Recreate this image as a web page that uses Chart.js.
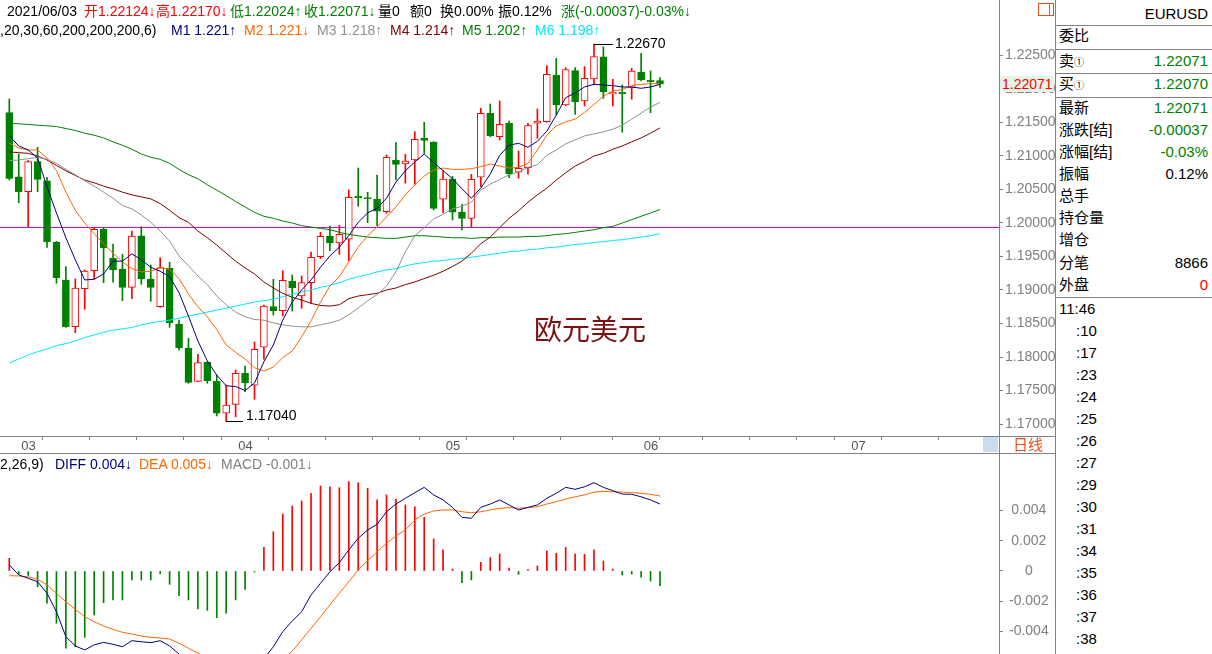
<!DOCTYPE html>
<html lang="zh-CN">
<head>
<meta charset="utf-8">
<title>EURUSD 日线</title>
<script src="https://cdn.jsdelivr.net/npm/chart.js@4.4.1/dist/chart.umd.min.js"></script>
<style>
    body { margin: 0; background: #fff; }
    #page { position: relative; width: 1212px; height: 654px; overflow: hidden; background: #fff;
            font-family: "Liberation Sans", Arial, "Noto Sans CJK SC", sans-serif; }
    canvas { position: absolute; left: 0; }
    .t { position: absolute; white-space: nowrap; font-size: 14px; line-height: 16px; }
    .p { position: absolute; white-space: nowrap; font-size: 15px; line-height: 18px; color: #000; }
    .v { right: 4px; text-align: right; }
    .ln { position: absolute; background: #808080; }
    .red { color: #ff0000; } .grn { color: #008000; } .blk { color: #000; }
</style>
</head>
<body>
<div id="page">
    <canvas id="priceChart" width="1055" height="454" style="top:0"></canvas>
    <canvas id="macdChart" width="1055" height="200" style="top:454px"></canvas>

    <!-- cadres -->
    <div class="ln" style="left:999px;top:0;width:1px;height:654px"></div>
    <div class="ln" style="left:1055px;top:0;width:1px;height:654px"></div>
    <div class="ln" style="left:0;top:436px;width:1055px;height:1px"></div>
    <div class="ln" style="left:0;top:453px;width:1055px;height:1px"></div>
    <div class="ln" style="left:1055px;top:25px;width:157px;height:1px"></div>
    <div class="ln" style="left:1055px;top:49px;width:157px;height:1px"></div>
    <div class="ln" style="left:1055px;top:73px;width:157px;height:1px"></div>
    <div class="ln" style="left:1055px;top:97px;width:157px;height:1px"></div>
    <div class="ln" style="left:1055px;top:297px;width:157px;height:1px"></div>
    <div style="position:absolute;left:1038px;top:3px;width:14px;height:11px;border:1px solid #e8501e"></div>
    <div style="position:absolute;left:1049px;top:3px;width:1px;height:13px;background:#e8501e"></div>
    <div style="position:absolute;left:983px;top:437px;width:15px;height:15px;background:#c8dcf2"></div>
    <div class="t" style="left:1013px;top:437px;color:#e8501e;font-size:15px">日线</div>

    <!-- en-tête -->
    <div class="t blk" style="left:7px;top:3px">2021/06/03</div>
    <div class="t red" style="left:84px;top:3px">开1.22124↓</div>
    <div class="t red" style="left:156px;top:3px">高1.22170↓</div>
    <div class="t grn" style="left:230px;top:3px">低1.22024↑</div>
    <div class="t grn" style="left:304px;top:3px">收1.22071↓</div>
    <div class="t blk" style="left:378px;top:3px">量0</div>
    <div class="t blk" style="left:410px;top:3px">额0</div>
    <div class="t blk" style="left:440px;top:3px">换0.00%</div>
    <div class="t blk" style="left:498px;top:3px">振0.12%</div>
    <div class="t grn" style="left:561px;top:3px">涨(-0.00037)-0.03%↓</div>

    <div class="t blk" style="left:0;top:22px">,20,30,60,200,200,200,6)</div>
    <div class="t" style="left:171px;top:22px;color:#000080">M1 1.221↑</div>
    <div class="t" style="left:244px;top:22px;color:#ff6600">M2 1.221↓</div>
    <div class="t" style="left:317px;top:22px;color:#909090">M3 1.218↑</div>
    <div class="t" style="left:390px;top:22px;color:#800000">M4 1.214↑</div>
    <div class="t" style="left:462px;top:22px;color:#008000">M5 1.202↑</div>
    <div class="t" style="left:535px;top:22px;color:#00e8ff">M6 1.198↑</div>

    <div class="t blk" style="left:0;top:456px">2,26,9)</div>
    <div class="t" style="left:55px;top:456px;color:#000080">DIFF 0.004↓</div>
    <div class="t" style="left:139px;top:456px;color:#ff6600">DEA 0.005↓</div>
    <div class="t" style="left:221px;top:456px;color:#808080">MACD -0.001↓</div>

    <div style="position:absolute;left:534px;top:311px;font-size:28px;line-height:34px;color:#7b1010;font-family:'Noto Sans CJK SC',sans-serif">欧元美元</div>

    <!-- étiquette du dernier prix -->
    <div class="t red" style="left:1000px;top:76px;width:54px;height:16px;background:#e6f4e6;padding-left:2px;box-sizing:border-box">1.22071</div>

    <!-- panneau de droite -->
    <div class="p v" style="top:5px">EURUSD</div>
    <div class="p" style="left:1059px;top:27px">委比</div>
    <div class="p" style="left:1059px;top:52px">卖<span style="font-size:10px">①</span></div>
    <div class="p v grn" style="top:52px">1.22071</div>
    <div class="p" style="left:1059px;top:75px">买<span style="font-size:10px">①</span></div>
    <div class="p v grn" style="top:75px">1.22070</div>
    <div class="p" style="left:1059px;top:99px">最新</div>
    <div class="p v grn" style="top:99px">1.22071</div>
    <div class="p" style="left:1059px;top:121px">涨跌[结]</div>
    <div class="p v grn" style="top:121px">-0.00037</div>
    <div class="p" style="left:1059px;top:143px">涨幅[结]</div>
    <div class="p v grn" style="top:143px">-0.03%</div>
    <div class="p" style="left:1059px;top:165px">振幅</div>
    <div class="p v" style="top:165px">0.12%</div>
    <div class="p" style="left:1059px;top:187px">总手</div>
    <div class="p" style="left:1059px;top:209px">持仓量</div>
    <div class="p" style="left:1059px;top:231px">增仓</div>
    <div class="p" style="left:1059px;top:254px">分笔</div>
    <div class="p v" style="top:254px">8866</div>
    <div class="p" style="left:1059px;top:276px">外盘</div>
    <div class="p v red" style="top:276px">0</div>
    <div id="timeList"></div>
</div>

<script>
// ------------------ DONNÉES (séance 0 = 26/02/2021) ------------------
const opens = [1.21646, 1.20690, 1.20467, 1.20915, 1.20631, 1.19716, 1.19149, 1.18452, 1.19019, 1.19290,
    1.19906, 1.19473, 1.19313, 1.19040, 1.19810, 1.19164, 1.18751, 1.19324, 1.18493, 1.18134,
    1.17637, 1.17925, 1.17637, 1.17160, 1.17294, 1.17757, 1.17578, 1.18145, 1.18751, 1.18691,
    1.19130, 1.18910, 1.19109, 1.19497, 1.19802, 1.19702, 1.19757, 1.20403, 1.20378, 1.20354,
    1.20169, 1.20940, 1.20881, 1.20940, 1.21269, 1.21209, 1.20354, 1.20657, 1.20164, 1.20070,
    1.20682, 1.21637, 1.21288, 1.21488, 1.20757, 1.20825, 1.21488, 1.21512, 1.22209, 1.21761,
    1.22273, 1.21821, 1.22149, 1.22478, 1.21925, 1.21951, 1.22025, 1.22249, 1.22130, 1.22124];
const highs = [1.21851, 1.21030, 1.20933, 1.21130, 1.20682, 1.19725, 1.19348, 1.19164, 1.19299, 1.19936,
    1.19936, 1.19687, 1.19533, 1.19881, 1.19945, 1.19373, 1.19482, 1.19413, 1.18552, 1.18279,
    1.18040, 1.17930, 1.17727, 1.17582, 1.17806, 1.17866, 1.18224, 1.18776, 1.19160, 1.19284,
    1.19224, 1.19209, 1.19567, 1.19861, 1.19955, 1.19966, 1.20493, 1.20821, 1.20458, 1.20716,
    1.21015, 1.21201, 1.21025, 1.21363, 1.21503, 1.21215, 1.20781, 1.20697, 1.20279, 1.20727,
    1.21712, 1.21776, 1.21821, 1.21522, 1.21075, 1.21488, 1.21701, 1.22348, 1.22458, 1.22318,
    1.22318, 1.22333, 1.22670, 1.22627, 1.22145, 1.22060, 1.22309, 1.22533, 1.22269, 1.22170];
const lows = [1.20642, 1.20303, 1.19945, 1.20467, 1.19637, 1.19100, 1.18440, 1.18363, 1.18712, 1.19160,
    1.19109, 1.19115, 1.18840, 1.18870, 1.19085, 1.18831, 1.18742, 1.18443, 1.18105, 1.17608,
    1.17630, 1.17608, 1.17120, 1.17040, 1.17109, 1.17482, 1.17369, 1.17966, 1.18627, 1.18612,
    1.18687, 1.18727, 1.18802, 1.19467, 1.19587, 1.19533, 1.19437, 1.20249, 1.20004, 1.19960,
    1.20145, 1.20642, 1.20593, 1.20578, 1.21040, 1.20194, 1.20154, 1.20045, 1.19896, 1.19936,
    1.20542, 1.21288, 1.21239, 1.20676, 1.20667, 1.20727, 1.21264, 1.21505, 1.21612, 1.21751,
    1.21622, 1.21746, 1.22060, 1.21861, 1.21746, 1.21354, 1.21846, 1.22119, 1.21646, 1.22024];
const closes = [1.20667, 1.20467, 1.20915, 1.20652, 1.19721, 1.19184, 1.18452, 1.19030, 1.19284, 1.19906,
    1.19627, 1.19299, 1.19040, 1.19806, 1.19169, 1.19040, 1.19333, 1.18512, 1.18139, 1.17622,
    1.17915, 1.17646, 1.17160, 1.17284, 1.17757, 1.17616, 1.18115, 1.18761, 1.18691, 1.19145,
    1.19034, 1.19109, 1.19488, 1.19802, 1.19702, 1.19831, 1.20384, 1.20373, 1.20363, 1.20175,
    1.20981, 1.20876, 1.20925, 1.21249, 1.21234, 1.20219, 1.20657, 1.20160, 1.20070, 1.20652,
    1.21637, 1.21303, 1.21473, 1.20731, 1.20816, 1.21452, 1.21522, 1.22219, 1.21761, 1.22288,
    1.21810, 1.22160, 1.22482, 1.21960, 1.21951, 1.21930, 1.22269, 1.22139, 1.22108, 1.22071];

// moyennes mobiles
const ma1 = [1.2130, 1.2115, 1.2109, 1.2097, 1.2054, 1.2015, 1.1978, 1.1945, 1.1915, 1.1916,
    1.1924, 1.1943, 1.1943, 1.1954, 1.1945, 1.1934, 1.1928, 1.1920, 1.1896, 1.1861,
    1.1824, 1.1794, 1.1773, 1.1757, 1.1756, 1.1750, 1.1761, 1.1793, 1.1818, 1.1855,
    1.1882, 1.1900, 1.1915, 1.1934, 1.1951, 1.1964, 1.1981, 1.2001, 1.2015, 1.2022,
    1.2037, 1.2061, 1.2078, 1.2091, 1.2103, 1.2090, 1.2078, 1.2066, 1.2051, 1.2037,
    1.2052, 1.2073, 1.2101, 1.2116, 1.2119, 1.2113, 1.2122, 1.2137, 1.2161, 1.2187,
    1.2194, 1.2203, 1.2207, 1.2206, 1.2205, 1.2203, 1.2203, 1.2201, 1.2203, 1.2207];
const ma2 = [1.2119, 1.2112, 1.2109, 1.2109, 1.2097, 1.2078, 1.2046, 1.2019, 1.2000, 1.1984,
    1.1969, 1.1955, 1.1942, 1.1932, 1.1927, 1.1928, 1.1933, 1.1931, 1.1917, 1.1894,
    1.1875, 1.1860, 1.1841, 1.1818, 1.1807, 1.1797, 1.1784, 1.1779, 1.1785, 1.1799,
    1.1809, 1.1830, 1.1854, 1.1882, 1.1906, 1.1920, 1.1942, 1.1964, 1.1981, 1.1994,
    1.2009, 1.2024, 1.2042, 1.2057, 1.2070, 1.2079, 1.2082, 1.2080, 1.2080, 1.2081,
    1.2084, 1.2088, 1.2085, 1.2082, 1.2083, 1.2089, 1.2109, 1.2131, 1.2145, 1.2151,
    1.2155, 1.2165, 1.2177, 1.2189, 1.2197, 1.2199, 1.2205, 1.2207, 1.2208, 1.2208];
const ma3 = [1.2093, 1.2094, 1.2096, 1.2098, 1.2095, 1.2089, 1.2080, 1.2072, 1.2063, 1.2055,
    1.2046, 1.2037, 1.2026, 1.2021, 1.2012, 1.2001, 1.1988, 1.1973, 1.1951, 1.1936,
    1.1921, 1.1908, 1.1891, 1.1878, 1.1867, 1.1860, 1.1856, 1.1855, 1.1851, 1.1848,
    1.1846, 1.1845, 1.1845, 1.1848, 1.1851, 1.1855, 1.1863, 1.1873, 1.1884, 1.1893,
    1.1906, 1.1927, 1.1957, 1.1981, 1.1993, 1.2006, 1.2013, 1.2021, 1.2025, 1.2031,
    1.2049, 1.2058, 1.2065, 1.2072, 1.2076, 1.2083, 1.2087, 1.2101, 1.2109, 1.2118,
    1.2124, 1.2130, 1.2133, 1.2136, 1.2140, 1.2146, 1.2155, 1.2164, 1.2173, 1.2180];
const ma4 = [1.2106, 1.2105, 1.2104, 1.2100, 1.2094, 1.2086, 1.2078, 1.2071, 1.2064, 1.2060,
    1.2055, 1.2051, 1.2046, 1.2042, 1.2039, 1.2036, 1.2029, 1.2019, 1.2008, 1.2001,
    1.1988, 1.1978, 1.1967, 1.1955, 1.1943, 1.1933, 1.1924, 1.1912, 1.1903, 1.1895,
    1.1889, 1.1885, 1.1880, 1.1877, 1.1876, 1.1878, 1.1887, 1.1891, 1.1893, 1.1895,
    1.1900, 1.1903, 1.1908, 1.1912, 1.1917, 1.1922, 1.1928, 1.1935, 1.1943, 1.1955,
    1.1969, 1.1979, 1.1993, 1.2007, 1.2018, 1.2031, 1.2042, 1.2052, 1.2064, 1.2075,
    1.2085, 1.2092, 1.2100, 1.2104, 1.2110, 1.2115, 1.2121, 1.2127, 1.2134, 1.2142];
const ma5 = [1.2149, 1.2148, 1.2147, 1.2146, 1.2145, 1.2144, 1.2141, 1.2138, 1.2134, 1.2131,
    1.2127, 1.2121, 1.2116, 1.2110, 1.2103, 1.2098, 1.2095, 1.2089, 1.2080, 1.2072,
    1.2066, 1.2057, 1.2049, 1.2041, 1.2032, 1.2024, 1.2016, 1.2010, 1.2007, 1.2003,
    1.2000, 1.1996, 1.1994, 1.1992, 1.1990, 1.1986, 1.1983, 1.1981, 1.1979, 1.1978,
    1.1977, 1.1977, 1.1979, 1.1981, 1.1981, 1.1980, 1.1979, 1.1978, 1.1978, 1.1977,
    1.1978, 1.1978, 1.1979, 1.1979, 1.1979, 1.1980, 1.1980, 1.1981, 1.1983, 1.1984,
    1.1986, 1.1988, 1.1990, 1.1993, 1.1995, 1.2000, 1.2005, 1.2010, 1.2015, 1.2020];
const ma6 = [1.1791, 1.1797, 1.1803, 1.1808, 1.1812, 1.1817, 1.1820, 1.1824, 1.1829, 1.1833,
    1.1837, 1.1840, 1.1842, 1.1844, 1.1848, 1.1851, 1.1853, 1.1855, 1.1858, 1.1861,
    1.1864, 1.1867, 1.1870, 1.1873, 1.1876, 1.1879, 1.1882, 1.1884, 1.1886, 1.1890,
    1.1894, 1.1897, 1.1900, 1.1904, 1.1907, 1.1911, 1.1916, 1.1920, 1.1923, 1.1927,
    1.1930, 1.1932, 1.1936, 1.1939, 1.1941, 1.1943, 1.1944, 1.1946, 1.1947, 1.1949,
    1.1951, 1.1953, 1.1955, 1.1957, 1.1958, 1.1960, 1.1961, 1.1963, 1.1964, 1.1966,
    1.1968, 1.1969, 1.1971, 1.1972, 1.1974, 1.1975, 1.1977, 1.1979, 1.1981, 1.1984];

// MACD (12,26,9)
const diffLine = [0.0004, -0.00026, -0.00048, -0.00071, -0.00147, -0.00269, -0.00434, -0.00495, -0.00521, -0.00488,
    -0.00471, -0.00484, -0.0050, -0.0046, -0.00467, -0.00473, -0.0046, -0.00495, -0.00548, -0.0061,
    -0.0066, -0.0071, -0.0076, -0.0079, -0.0077, -0.0074, -0.0068, -0.0058, -0.0050, -0.0040,
    -0.0033, -0.00269, -0.00158, -0.00081, -0.00005, 0.00055, 0.00139, 0.00216, 0.00271, 0.00308,
    0.00391, 0.00442, 0.0048, 0.00517, 0.00552, 0.00502, 0.00469, 0.0042, 0.00354, 0.00348,
    0.0042, 0.00442, 0.00469, 0.00436, 0.00403, 0.0042, 0.00436, 0.0048, 0.00513, 0.00552,
    0.00539, 0.00556, 0.00583, 0.00552, 0.0053, 0.00508, 0.00506, 0.0049, 0.00469, 0.00442];
const deaLine = [-0.00031, -0.00033, -0.00038, -0.00055, -0.00092, -0.00147, -0.00203, -0.00253, -0.00302, -0.00335,
    -0.00363, -0.00385, -0.00405, -0.00416, -0.00429, -0.00438, -0.00442, -0.00449, -0.00477, -0.0051,
    -0.00543, -0.0058, -0.0062, -0.0065, -0.0067, -0.0068, -0.0068, -0.0066, -0.0063, -0.0058,
    -0.0053, -0.00455, -0.00378, -0.00302, -0.00224, -0.00147, -0.00071, 0.00007, 0.00068, 0.00127,
    0.00183, 0.00231, 0.00271, 0.00337, 0.00376, 0.00396, 0.00403, 0.00403, 0.00391, 0.00385,
    0.00391, 0.00403, 0.00414, 0.00418, 0.00414, 0.00418, 0.00424, 0.00442, 0.00457, 0.00475,
    0.0049, 0.00502, 0.00521, 0.00526, 0.00523, 0.00521, 0.00517, 0.00513, 0.00506, 0.00495];
const macdBars = [0.00084, -0.0002, -0.0003, -0.00104, -0.00213, -0.00345, -0.0051, -0.0050, -0.00438, -0.0029,
    -0.00209, -0.00191, -0.00191, -0.00059, -0.00059, -0.00059, -0.00018, -0.00088, -0.00163, -0.00191,
    -0.00251, -0.0026, -0.00308, -0.00279, -0.00191, -0.00121, -0.00007, 0.00156, 0.0026, 0.00376,
    0.00429, 0.00462, 0.00513, 0.00561, 0.00556, 0.0055, 0.0059, 0.00583, 0.00546, 0.00469,
    0.00502, 0.00475, 0.00436, 0.00424, 0.00354, 0.00211, 0.00139, 0.00013, -0.00077, -0.00059,
    0.00057, 0.00088, 0.00112, 0.0002, -0.00022, 0.0001, 0.00033, 0.00132, 0.00117, 0.00156,
    0.00112, 0.0011, 0.00139, 0.00066, 0.00013, -0.00026, -0.0002, -0.0004, -0.00066, -0.00097];

const priceTicks = [1.17, 1.175, 1.18, 1.185, 1.19, 1.195, 1.2, 1.205, 1.21, 1.215, 1.22, 1.225];
const macdTicks = [-0.004, -0.002, 0, 0.002, 0.004];
const monthLabels = {1: '03', 24: '04', 46: '05', 67: '06', 89: '07'};
const weekTicks = [6, 11, 16, 21, 31, 36, 41, 51, 56, 61, 71, 76, 81, 86, 96, 101];
const refLevel = 1.19933;
const tickTimes = ['11:46', ':10', ':17', ':23', ':24', ':25', ':26', ':27', ':29', ':30', ':31', ':34', ':35', ':36', ':37', ':38'];

// ------------------ BORNES DES ÉCHELLES ------------------
const xMin = -0.986, xMax = 104.95;
const priceMin = 1.16821, priceMax = 1.23328;
const macdMin = -0.005479, macdMax = 0.007723;

const upColor = '#ff0000';
const downColor = '#008000';

Chart.defaults.font.family = '"Liberation Sans", Arial, sans-serif';

// liste des ticks (feuille de droite)
const timeList = document.getElementById('timeList');
tickTimes.forEach((t, k) => {
    const d = document.createElement('div');
    d.className = 'p';
    d.style.left = (k === 0 ? 1059 : 1076) + 'px';
    d.style.top = (300 + k * 22) + 'px';
    d.textContent = t;
    timeList.appendChild(d);
});

const isUp = closes.map((c, i) => c >= opens[i]);
const toPoints = arr => arr.map((v, i) => ({x: i, y: v}));
const allTicks = Object.keys(monthLabels).map(Number).concat(weekTicks).sort((a, b) => a - b);

// Libellés du plus haut / plus bas
const hiLoPlugin = {
    id: 'hiLo',
    afterDatasetsDraw(chart) {
        const {ctx, scales: {x, y}} = chart;
        const iHigh = highs.indexOf(Math.max(...highs));
        const iLow = lows.indexOf(Math.min(...lows));
        ctx.save();
        ctx.strokeStyle = '#000';
        ctx.fillStyle = '#000';
        ctx.lineWidth = 1;
        ctx.font = '14px "Liberation Sans", Arial';

        let px = Math.round(x.getPixelForValue(iHigh));
        let py = Math.round(y.getPixelForValue(highs[iHigh])) + 0.5;
        ctx.beginPath(); ctx.moveTo(px, py); ctx.lineTo(px + 19, py); ctx.stroke();
        ctx.textBaseline = 'middle';
        ctx.fillText(highs[iHigh].toFixed(5), px + 21, py);

        px = Math.round(x.getPixelForValue(iLow));
        py = Math.round(y.getPixelForValue(lows[iLow])) + 0.5;
        ctx.beginPath(); ctx.moveTo(px, py); ctx.lineTo(px + 17, py); ctx.stroke();
        ctx.textBaseline = 'alphabetic';
        ctx.fillText(lows[iLow].toFixed(5), px + 20, py - 2);
        ctx.restore();
    }
};

const noFitPadding = (w) => s => { s.width = w; s.paddingTop = 0; s.paddingBottom = 0; };

// ------------------ GRAPHIQUE DES COURS ------------------
const lineDs = (data, color) => ({
    type: 'line', data: toPoints(data), borderColor: color, borderWidth: 1,
    pointRadius: 0, tension: 0, order: 0
});

new Chart(document.getElementById('priceChart'), {
    type: 'bar',
    data: {
        datasets: [
            lineDs(ma1, '#000080'),
            lineDs(ma2, '#ff6600'),
            lineDs(ma3, '#909090'),
            lineDs(ma4, '#800000'),
            lineDs(ma5, '#008000'),
            lineDs(ma6, '#00e8ff'),
            {
                // corps des bougies
                data: closes.map((c, i) => ({x: i, y: [opens[i], c]})),
                backgroundColor: isUp.map(u => u ? '#ffffff' : downColor),
                borderColor: isUp.map(u => u ? upColor : downColor),
                borderWidth: 1, borderSkipped: false, minBarLength: 1,
                barThickness: 7, maxBarThickness: 7, grouped: false, order: 1
            },
            {
                // mèches
                data: highs.map((h, i) => ({x: i, y: [lows[i], h]})),
                backgroundColor: isUp.map(u => u ? upColor : downColor),
                borderWidth: 0, barThickness: 1, maxBarThickness: 1, grouped: false, order: 2
            },
            {
                type: 'line', data: [{x: xMin, y: refLevel}, {x: xMax, y: refLevel}],
                borderColor: '#d000d0', borderWidth: 1, pointRadius: 0, order: 3
            }
        ]
    },
    options: {
        responsive: false, animation: false, devicePixelRatio: 1, events: [],
        layout: { padding: 0 },
        plugins: { legend: { display: false }, tooltip: { enabled: false } },
        scales: {
            x: {
                type: 'linear', min: xMin, max: xMax, offset: false,
                afterBuildTicks: s => { s.ticks = allTicks.map(v => ({value: v})); },
                afterFit: s => { s.height = 18; s.paddingLeft = 0; s.paddingRight = 0; },
                grid: { drawOnChartArea: false, tickLength: 4, color: '#808080' },
                border: { display: false },
                ticks: {
                    autoSkip: false, maxRotation: 0, align: 'start', padding: -1,
                    color: '#555555', font: { size: 13 },
                    callback: v => monthLabels[v] ? '\u2009' + monthLabels[v] : ''
                }
            },
            y: {
                position: 'right', min: priceMin, max: priceMax, beginAtZero: false,
                afterBuildTicks: s => { s.ticks = priceTicks.map(v => ({value: v})); },
                afterFit: noFitPadding(56),
                grid: { drawOnChartArea: false, tickLength: 4, color: '#808080' },
                border: { display: false },
                ticks: { padding: 2, color: '#808080', font: { size: 14 }, callback: v => v.toFixed(5) }
            }
        }
    },
    plugins: [hiLoPlugin]
});

// ------------------ GRAPHIQUE MACD ------------------
new Chart(document.getElementById('macdChart'), {
    type: 'bar',
    data: {
        datasets: [
            lineDs(diffLine, '#000080'),
            lineDs(deaLine, '#ff6600'),
            {
                data: toPoints(macdBars),
                backgroundColor: macdBars.map(v => v >= 0 ? upColor : downColor),
                borderWidth: 0, barThickness: 1, maxBarThickness: 1, order: 1
            }
        ]
    },
    options: {
        responsive: false, animation: false, devicePixelRatio: 1, events: [],
        layout: { padding: 0 },
        plugins: { legend: { display: false }, tooltip: { enabled: false } },
        scales: {
            x: { type: 'linear', min: xMin, max: xMax, offset: false, display: false },
            y: {
                position: 'right', min: macdMin, max: macdMax, beginAtZero: false,
                afterBuildTicks: s => { s.ticks = macdTicks.map(v => ({value: v})); },
                afterFit: noFitPadding(56),
                grid: { drawOnChartArea: false, tickLength: 4, color: '#808080' },
                border: { display: false },
                ticks: {
                    crossAlign: 'center', padding: 6, color: '#808080', font: { size: 14 },
                    callback: v => v === 0 ? '0' : v.toFixed(3)
                }
            }
        }
    }
});
</script>
</body>
</html>
